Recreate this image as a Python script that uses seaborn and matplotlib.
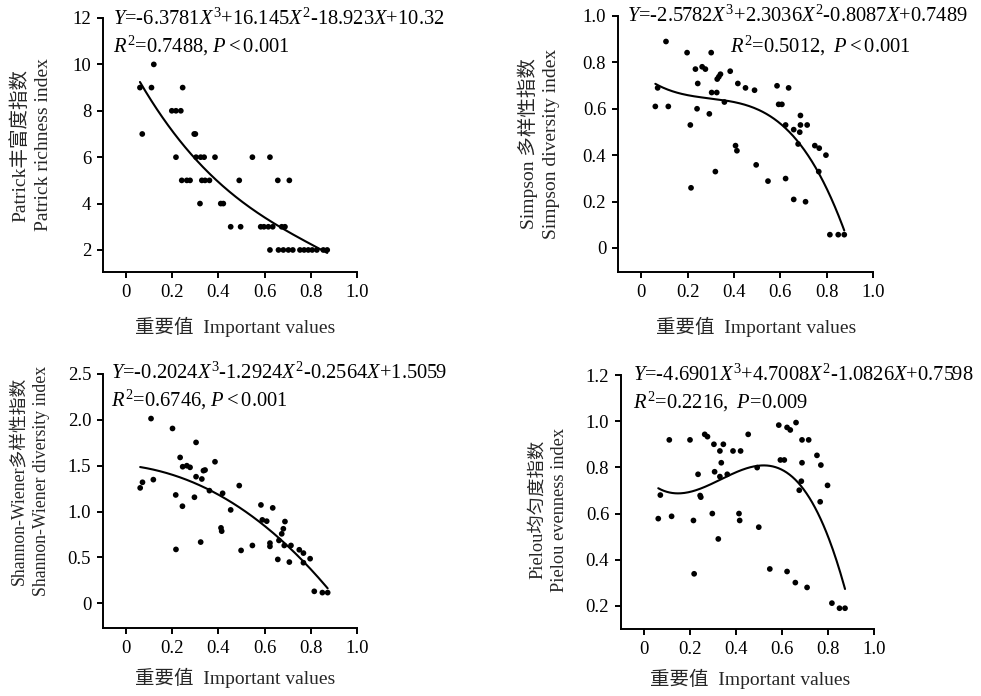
import numpy as np
import matplotlib
matplotlib.use("Agg")
import matplotlib.pyplot as plt
import seaborn as sns

# ---- data: importance value (x) vs. diversity indices ----
patrick_x = [0.06, 0.11, 0.245, 0.12, 0.07, 0.295, 0.30,
             0.198, 0.216, 0.237,
             0.216, 0.303, 0.323, 0.338, 0.385, 0.547, 0.623,
             0.241, 0.263, 0.277, 0.328, 0.342, 0.361, 0.490, 0.657, 0.707,
             0.320, 0.410, 0.421,
             0.453, 0.496, 0.583, 0.597, 0.616, 0.635, 0.674, 0.688,
             0.623, 0.660, 0.681, 0.703, 0.722, 0.753, 0.771, 0.789, 0.806, 0.826, 0.854, 0.871]
patrick_y = [9, 9, 9, 10, 7, 7, 7,
             8, 8, 8,
             6, 6, 6, 6, 6, 6, 6,
             5, 5, 5, 5, 5, 5, 5, 5, 5,
             4, 4, 4,
             3, 3, 3, 3, 3, 3, 3, 3,
             2, 2, 2, 2, 2, 2, 2, 2, 2, 2, 2, 2]

simpson_x = [0.061, 0.071, 0.107, 0.117, 0.198, 0.212, 0.215, 0.234, 0.244, 0.241,
             0.263, 0.277, 0.294, 0.302, 0.304, 0.326, 0.320, 0.328, 0.335, 0.342,
             0.359, 0.384, 0.407, 0.413, 0.417, 0.450, 0.489, 0.496, 0.547, 0.586,
             0.593, 0.607, 0.623, 0.623, 0.636, 0.658, 0.658, 0.677, 0.684, 0.687,
             0.687, 0.709, 0.716, 0.749, 0.768, 0.766, 0.797, 0.814, 0.850, 0.876]
simpson_y = [0.610, 0.690, 0.890, 0.610, 0.842, 0.530, 0.259, 0.771, 0.709, 0.600,
             0.781, 0.771, 0.578, 0.842, 0.670, 0.670, 0.329, 0.728, 0.738, 0.749,
             0.629, 0.762, 0.441, 0.419, 0.709, 0.690, 0.680, 0.358, 0.288, 0.699,
             0.619, 0.619, 0.530, 0.299, 0.690, 0.510, 0.209, 0.448, 0.499, 0.530,
             0.571, 0.199, 0.530, 0.441, 0.430, 0.329, 0.400, 0.057, 0.057, 0.057]

shannon_x = [0.061, 0.071, 0.108, 0.118, 0.201, 0.215, 0.216, 0.234, 0.244, 0.245,
             0.263, 0.277, 0.296, 0.303, 0.303, 0.323, 0.328, 0.335, 0.342, 0.361,
             0.385, 0.411, 0.414, 0.418, 0.453, 0.490, 0.498, 0.547, 0.584, 0.590,
             0.609, 0.623, 0.623, 0.635, 0.657, 0.662, 0.674, 0.681, 0.688, 0.685,
             0.707, 0.714, 0.750, 0.768, 0.768, 0.797, 0.815, 0.850, 0.873]
shannon_y = [1.258, 1.319, 2.014, 1.348, 1.906, 1.181, 0.587, 1.590, 1.058, 1.489,
             1.500, 1.482, 1.156, 1.754, 1.380, 0.667, 1.355, 1.446, 1.453, 1.228,
             1.543, 0.822, 0.786, 1.199, 1.018, 1.283, 0.576, 0.630, 1.072, 0.909,
             0.895, 0.656, 0.620, 1.040, 0.478, 0.685, 0.757, 0.812, 0.891, 0.630,
             0.449, 0.630, 0.583, 0.547, 0.442, 0.486, 0.130, 0.116, 0.116]

pielou_x = [0.062, 0.071, 0.110, 0.120, 0.200, 0.215, 0.218, 0.235, 0.244, 0.247,
            0.264, 0.276, 0.297, 0.304, 0.307, 0.323, 0.330, 0.330, 0.336, 0.345,
            0.362, 0.387, 0.413, 0.416, 0.420, 0.453, 0.492, 0.499, 0.547, 0.586,
            0.593, 0.610, 0.622, 0.622, 0.636, 0.658, 0.661, 0.675, 0.684, 0.687,
            0.687, 0.709, 0.716, 0.752, 0.766, 0.769, 0.798, 0.817, 0.850, 0.874]
pielou_y = [0.578, 0.680, 0.919, 0.588, 0.919, 0.570, 0.339, 0.770, 0.678, 0.671,
            0.943, 0.933, 0.600, 0.900, 0.781, 0.490, 0.871, 0.760, 0.820, 0.900,
            0.770, 0.871, 0.600, 0.570, 0.871, 0.943, 0.799, 0.541, 0.360, 0.983,
            0.832, 0.832, 0.973, 0.349, 0.962, 0.301, 0.994, 0.701, 0.740, 0.919,
            0.820, 0.280, 0.919, 0.852, 0.651, 0.810, 0.722, 0.212, 0.190, 0.190]

# cubic fit coefficients (highest power first)
patrick_coef = [-6.3781, 16.145, -18.923, 10.32]
simpson_coef = [-2.5782, 2.3036, -0.8087, 0.7489]
shannon_coef = [-0.2024, -1.2924, -0.2564, 1.5059]
pielou_coef = [-4.6901, 4.7008, -1.0826, 0.7598]

eq_texts = [r"$Y$=-6.3781$X^3$+16.145$X^2$-18.923$X$+10.32",
            r"$Y$=-2.5782$X^3$+2.3036$X^2$-0.8087$X$+0.7489",
            r"$Y$=-0.2024$X^3$-1.2924$X^2$-0.2564$X$+1.5059",
            r"$Y$=-4.6901$X^3$+4.7008$X^2$-1.0826$X$+0.7598"]
stat_texts = [r"$R^2$=0.7488, $P<0.001$",
              r"$R^2$=0.5012, $\;P<0.001$",
              r"$R^2$=0.6746, $P<0.001$",
              r"$R^2$=0.2216, $\;P$=0.009"]

ylabels = ["Patrick丰富度指数\nPatrick richness index",
           "Simpson 多样性指数\nSimpson diversity index",
           "Shannon-Wiener多样性指数\nShannon-Wiener diversity index",
           "Pielou均匀度指数\nPielou evenness index"]
xlabel = "重要值  Important values"

xticks = [0, 0.2, 0.4, 0.6, 0.8, 1.0]
xticklabels = ["0", "0.2", "0.4", "0.6", "0.8", "1.0"]
yticks_list = [[2, 4, 6, 8, 10, 12],
               [0, 0.2, 0.4, 0.6, 0.8, 1.0],
               [0, 0.5, 1.0, 1.5, 2.0, 2.5],
               [0.2, 0.4, 0.6, 0.8, 1.0, 1.2]]
yticklabels_list = [["2", "4", "6", "8", "10", "12"],
                    ["0", "0.2", "0.4", "0.6", "0.8", "1.0"],
                    ["0", "0.5", "1.0", "1.5", "2.0", "2.5"],
                    ["0.2", "0.4", "0.6", "0.8", "1.0", "1.2"]]
ylims = [(1.05, 12), (-0.104, 1.0), (-0.27, 2.5), (0.1, 1.2)]

# ---- style ----
sns.set_theme(style="ticks")
FAM = ["Liberation Serif", "Noto Sans CJK SC"]
plt.rcParams.update({
    "font.family": FAM,
    "mathtext.fontset": "custom",
    "mathtext.rm": "Liberation Serif",
    "mathtext.it": "Liberation Serif:italic",
    "mathtext.bf": "Liberation Serif:bold",
    "axes.linewidth": 1.4,
    "xtick.major.width": 1.4,
    "ytick.major.width": 1.4,
    "xtick.major.size": 4.5,
    "ytick.major.size": 4.5,
    "xtick.major.pad": 4,
    "ytick.major.pad": 4,
    "xtick.color": "black",
    "ytick.color": "black",
    "axes.edgecolor": "black",
    "text.color": "black",
})

W, H = 981, 696
fig = plt.figure(figsize=(W / 100, H / 100), dpi=100)

# axes boxes in pixels: left, right, top, bottom
boxes = [(103, 357, 18, 272), (618, 873, 16, 272),
         (103, 357, 374, 628), (621, 874, 375, 629)]
eq_pos = [(113, 19), (627, 16), (111, 373), (633, 375)]
stat_pos = [(113, 46), (730, 46), (111, 400), (633, 402)]
ylab_coords = [(-0.201, 0.5), (-0.227, 0.5), (-0.209, 0.58), (-0.209, 0.47)]
ylab_sizes = [14, 14, 12.8, 13.2]
xlab_coords = [(0.52, -0.178), (0.54, -0.176), (0.52, -0.158), (0.51, -0.155)]

datasets = [(patrick_x, patrick_y, patrick_coef),
            (simpson_x, simpson_y, simpson_coef),
            (shannon_x, shannon_y, shannon_coef),
            (pielou_x, pielou_y, pielou_coef)]

for i, (xv, yv, coef) in enumerate(datasets):
    l, r, t, b = boxes[i]
    ax = fig.add_axes([l / W, 1 - b / H, (r - l) / W, (b - t) / H])
    ax.set_facecolor("white")
    sns.scatterplot(x=xv, y=yv, ax=ax, color="black", s=17,
                    edgecolor="none", linewidth=0, zorder=3)
    xs = np.linspace(min(xv), max(xv), 200)
    sns.lineplot(x=xs, y=np.polyval(coef, xs), ax=ax, color="black",
                 linewidth=1.5, zorder=2)
    ax.set_xlim(-0.1, 1.0)
    ax.set_ylim(*ylims[i])
    ax.set_xticks(xticks)
    ax.set_xticklabels(xticklabels, fontsize=13.5)
    ax.set_yticks(yticks_list[i])
    ax.set_yticklabels(yticklabels_list[i], fontsize=13.5)
    sns.despine(ax=ax)
    ax.set_xlabel(xlabel, fontsize=14, family=FAM)
    ax.xaxis.set_label_coords(*xlab_coords[i])
    ax.set_ylabel(ylabels[i], fontsize=ylab_sizes[i], family=FAM, linespacing=1.4)
    ax.yaxis.set_label_coords(*ylab_coords[i])
    ex, ey = eq_pos[i]
    fig.text(ex / W, 1 - ey / H, eq_texts[i], fontsize=14.8,
             family="Liberation Serif", ha="left", va="center")
    sx, sy = stat_pos[i]
    fig.text(sx / W, 1 - sy / H, stat_texts[i], fontsize=14.8,
             family="Liberation Serif", ha="left", va="center")

fig.savefig("out.png", dpi=100, facecolor="white")
